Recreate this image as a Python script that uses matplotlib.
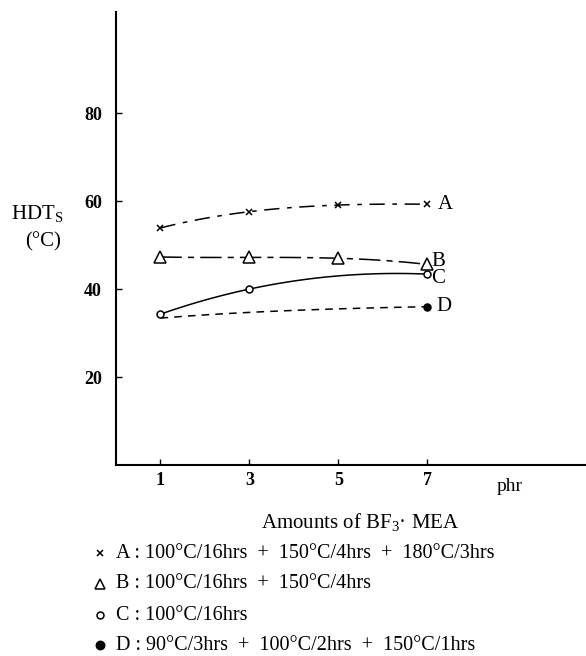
import numpy as np
import matplotlib
matplotlib.use("Agg")
import matplotlib.pyplot as plt
from matplotlib.lines import Line2D

# amounts of BF3-MEA (phr)
phr = [1, 3, 5, 7]

# HDT_S (deg C)
hdt_a = [53.9, 57.6, 59.1, 59.3]
hdt_b = [47.3, 47.2, 47.0, 45.6]
hdt_c = [34.3, 40.0, 43.0, 43.4]
hdt_d = [33.4, 34.7, 35.5, 36.0]

series_names = ["A", "B", "C", "D"]
legend_texts = [
    "100°C/16hrs  +  150°C/4hrs  +  180°C/3hrs",
    "100°C/16hrs  +  150°C/4hrs",
    "100°C/16hrs",
    "90°C/3hrs  +  100°C/2hrs  +  150°C/1hrs",
]

plt.rcParams.update({
    "font.family": ["Liberation Serif", "DejaVu Serif"],
    "mathtext.fontset": "custom",
    "mathtext.rm": "Liberation Serif",
    "mathtext.it": "Liberation Serif:italic",
    "font.size": 13,
})

W, H = 586, 656
fig = plt.figure(figsize=(W / 100, H / 100), dpi=100)
ax = fig.add_axes([116 / W, 1 - 465 / H, 1 - 116 / W, (465 - 12) / H])


def smooth(x, y):
    # smooth curve through the read points
    coef = np.polyfit(x, y, len(x) - 1)
    xs = np.linspace(x[0], x[-1], 100)
    return xs, np.polyval(coef, xs)


styles = {
    "A": dict(y=hdt_a, ls=(0, (10, 5, 3, 5)), marker="x", ms=5, mfc="black", mark=[0, 1, 2, 3]),
    "B": dict(y=hdt_b, ls=(0, (14, 4, 4, 4)), marker="^", ms=8, mfc="white", mark=[0, 1, 2, 3]),
    "C": dict(y=hdt_c, ls="-", marker="o", ms=5, mfc="white", mark=[0, 1, 3]),
    "D": dict(y=hdt_d, ls=(0, (5, 4)), marker="o", ms=5, mfc="black", mark=[3]),
}

for name in series_names:
    st = styles[name]
    xs, ys = smooth(phr, st["y"])
    ax.plot(xs, ys, color="black", lw=1.1, ls=st["ls"])
    mx = [phr[i] for i in st["mark"]]
    my = [st["y"][i] for i in st["mark"]]
    ax.plot(mx, my, ls="none", marker=st["marker"], ms=st["ms"], mfc=st["mfc"],
            mec="black", mew=1.1, color="black", zorder=3)

label_pos = {"A": (7.4, 59.3), "B": (7.25, 46.2), "C": (7.25, 42.3), "D": (7.37, 36.0)}
for name in series_names:
    lx, ly = label_pos[name]
    ax.text(lx, ly, name, fontsize=15, va="center", ha="center")

ax.set_xlim(0, 10.57)
ax.set_ylim(0, 103)
ax.set_xticks(phr)
ax.set_yticks([20, 40, 60, 80])
ax.tick_params(direction="in", length=4, width=1, labelsize=13)
ax.tick_params(axis="x", pad=5)
ax.tick_params(axis="y", pad=10)
for lab in ax.get_xticklabels() + ax.get_yticklabels():
    lab.set_fontweight("bold")
ax.text(8.85, -3.0, "phr", fontsize=14, ha="center", va="top")
for s in ("top", "right"):
    ax.spines[s].set_visible(False)
for s in ("left", "bottom"):
    ax.spines[s].set_linewidth(1.5)

fig.text(37 / W, 1 - 213 / H, r"HDT$_{\mathrm{S}}$", fontsize=15, ha="center", va="center")
fig.text(43 / W, 1 - 242 / H, "(°C)", fontsize=15, ha="center", va="center")
fig.text(360 / W, 1 - 522 / H, r"Amounts of BF$_3$· MEA", fontsize=15, ha="center", va="center")

# legend block below the axes
leg_y = [553, 584, 615, 645]
leg_marker = [("x", "black", 5), ("^", "white", 7), ("o", "white", 5), ("o", "black", 6)]
for i, name in enumerate(series_names):
    yy = 1 - leg_y[i] / H
    m, fc, ms = leg_marker[i]
    fig.add_artist(Line2D([100 / W], [yy], marker=m, ms=ms, mfc=fc, mec="black",
                          mew=1.1, ls="none", transform=fig.transFigure))
    fig.text(116 / W, yy, f"{name} : {legend_texts[i]}", fontsize=14.5, ha="left", va="center")

fig.savefig("out.png", dpi=100)
